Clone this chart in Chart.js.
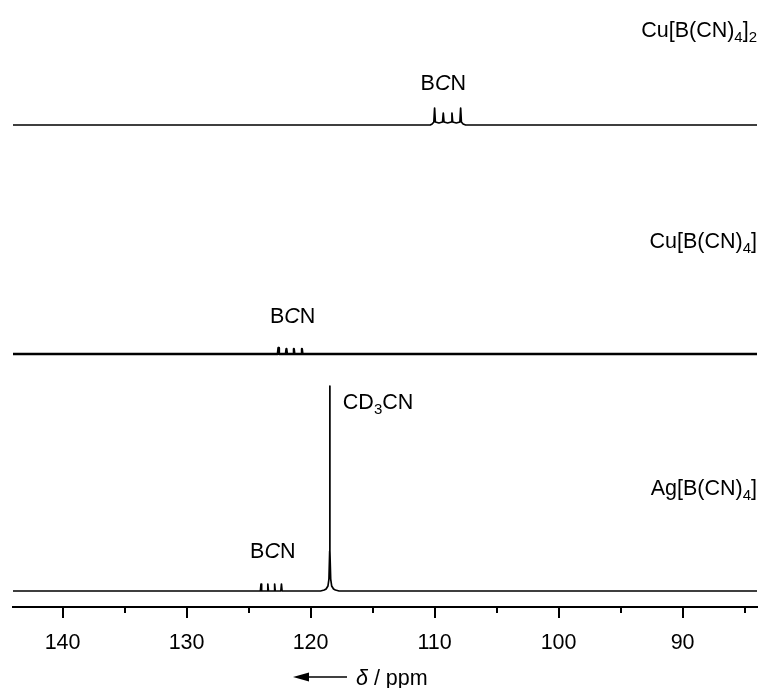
<!DOCTYPE html>
<html>
<head>
<meta charset="utf-8">
<script src="https://cdn.jsdelivr.net/npm/chart.js@4/dist/chart.umd.min.js"></script>
<style>
  body { margin: 0; background: #fff; }
  canvas { display: block; }
</style>
</head>
<body>
<canvas id="nmr" width="761" height="688"></canvas>
<script>
// ppm window, high field on the right
const ppmRange = [144, 84];
const majorTicks = [140, 130, 120, 110, 100, 90];
const minorTicks = [135, 125, 115, 105, 95, 85];

// spectra as [ppm, intensity] pairs
const cu2Spectrum = [
  [144, 0], [110.35, 0], [110.2, 1], [110.06, 3], [110.0, 17], [109.94, 3],
  [109.65, 2], [109.36, 3], [109.3, 12], [109.24, 3], [108.95, 2],
  [108.66, 3], [108.6, 12], [108.54, 3], [108.25, 2],
  [107.96, 3], [107.9, 17], [107.84, 3], [107.7, 1], [107.5, 0], [84, 0]
];
const cu1Spectrum = [
  [144, 0], [122.65, 0], [122.6, 6], [122.55, 0],
  [122.0, 0], [121.95, 5], [121.9, 0],
  [121.4, 0], [121.35, 5], [121.3, 0],
  [120.75, 0], [120.7, 5], [120.65, 0], [84, 0]
];
const agSpectrum = [
  [144, 0], [124.05, 0], [124.0, 7], [123.95, 0],
  [123.5, 0], [123.45, 7], [123.4, 0],
  [122.95, 0], [122.9, 7], [122.85, 0],
  [122.4, 0], [122.35, 7], [122.3, 0],
  [119.2, 0], [118.9, 1], [118.75, 2], [118.6, 5], [118.52, 12], [118.46, 40],
  [118.45, 205], [118.44, 40], [118.38, 12], [118.3, 5], [118.15, 2],
  [118.0, 1], [117.7, 0], [84, 0]
];

// vertical stacking of the three traces
const offsets = { cu2: 482, cu1: 253, ag: 16 };

const FONT = '"Liberation Sans", Arial, sans-serif';
const SIZE = 21.5;
const SUB = 15;

function toPoints(spec, off) {
  return spec.map(p => ({ x: p[0], y: p[1] + off }));
}

function runsWidth(ctx, runs) {
  let w = 0;
  runs.forEach(r => {
    ctx.font = (r.it ? 'italic ' : '') + (r.sub ? SUB : SIZE) + 'px ' + FONT;
    w += ctx.measureText(r.t).width;
  });
  return w;
}

function drawRuns(ctx, runs, x, y, align) {
  let w = runsWidth(ctx, runs);
  let cx = align === 'right' ? x - w : align === 'center' ? x - w / 2 : x;
  ctx.textBaseline = 'alphabetic';
  ctx.textAlign = 'left';
  ctx.fillStyle = '#000';
  runs.forEach(r => {
    ctx.font = (r.it ? 'italic ' : '') + (r.sub ? SUB : SIZE) + 'px ' + FONT;
    ctx.fillText(r.t, cx, r.sub ? y + 5 : y);
    cx += ctx.measureText(r.t).width;
  });
}

const bcn = [{ t: 'B' }, { t: 'C', it: true }, { t: 'N' }];

const annotate = {
  id: 'annotate',
  afterDraw(chart) {
    const ctx = chart.ctx;
    const xs = chart.scales.x, ys = chart.scales.y;
    const area = chart.chartArea;
    ctx.save();

    // tick marks
    ctx.strokeStyle = '#000';
    ctx.lineWidth = 2;
    majorTicks.forEach(v => {
      const px = Math.round(xs.getPixelForValue(v));
      ctx.beginPath(); ctx.moveTo(px, area.bottom); ctx.lineTo(px, area.bottom + 11); ctx.stroke();
    });
    minorTicks.forEach(v => {
      const px = Math.round(xs.getPixelForValue(v));
      ctx.beginPath(); ctx.moveTo(px, area.bottom); ctx.lineTo(px, area.bottom + 6); ctx.stroke();
    });

    // sample names
    const r = area.right;
    drawRuns(ctx, [{ t: 'Cu[B(CN)' }, { t: '4', sub: true }, { t: ']' }, { t: '2', sub: true }],
      r, ys.getPixelForValue(offsets.cu2 + 88), 'right');
    drawRuns(ctx, [{ t: 'Cu[B(CN)' }, { t: '4', sub: true }, { t: ']' }],
      r, ys.getPixelForValue(offsets.cu1 + 106), 'right');
    drawRuns(ctx, [{ t: 'Ag[B(CN)' }, { t: '4', sub: true }, { t: ']' }],
      r, ys.getPixelForValue(offsets.ag + 96), 'right');

    // peak labels
    drawRuns(ctx, bcn, xs.getPixelForValue(109.3), ys.getPixelForValue(offsets.cu2 + 35), 'center');
    drawRuns(ctx, bcn, xs.getPixelForValue(121.45), ys.getPixelForValue(offsets.cu1 + 31), 'center');
    drawRuns(ctx, bcn, xs.getPixelForValue(123.05), ys.getPixelForValue(offsets.ag + 33), 'center');
    drawRuns(ctx, [{ t: 'CD' }, { t: '3', sub: true }, { t: 'CN' }],
      xs.getPixelForValue(117.4), ys.getPixelForValue(offsets.ag + 182), 'left');

    // axis title with arrow
    const ty = 677;
    ctx.beginPath(); ctx.moveTo(307, ty); ctx.lineTo(347, ty); ctx.lineWidth = 1.5; ctx.stroke();
    ctx.beginPath(); ctx.moveTo(293, ty); ctx.lineTo(309, ty - 4.5); ctx.lineTo(309, ty + 4.5); ctx.closePath();
    ctx.fill();
    drawRuns(ctx, [{ t: 'δ', it: true }, { t: ' / ppm' }], 356, ty + 8, 'left');

    ctx.restore();
  }
};

new Chart(document.getElementById('nmr'), {
  type: 'line',
  data: {
    datasets: [
      { data: toPoints(cu2Spectrum, offsets.cu2), borderWidth: 1.7 },
      { data: toPoints(cu1Spectrum, offsets.cu1), borderWidth: 2.3 },
      { data: toPoints(agSpectrum, offsets.ag), borderWidth: 1.7 }
    ]
  },
  options: {
    responsive: false,
    animation: false,
    layout: { padding: { left: 13, right: 4, top: 0, bottom: 0 } },
    elements: {
      point: { radius: 0 },
      line: { borderColor: '#000', tension: 0, borderJoinStyle: 'round' }
    },
    plugins: { legend: { display: false }, tooltip: { enabled: false } },
    scales: {
      x: {
        type: 'linear',
        reverse: true,
        min: ppmRange[1],
        max: ppmRange[0],
        afterBuildTicks: s => { s.ticks = majorTicks.map(v => ({ value: v })); },
        afterFit: s => { s.height = 81; },
        grid: { display: false },
        border: { display: true, color: '#000', width: 2 },
        ticks: {
          color: '#000',
          padding: 15,
          maxRotation: 0,
          font: { family: FONT, size: SIZE }
        }
      },
      y: {
        display: false,
        min: 0,
        max: 607
      }
    }
  },
  plugins: [annotate]
});
</script>
</body>
</html>
